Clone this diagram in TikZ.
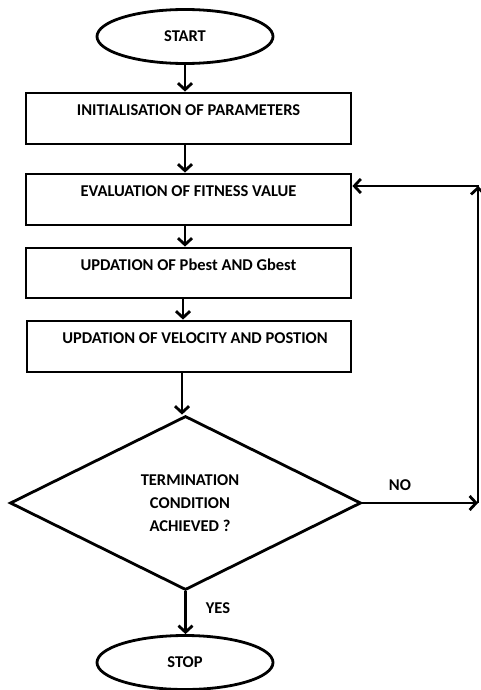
\documentclass[tikz,border=0pt]{standalone}
\usepackage{fontspec}
\setmainfont{Carlito}
\usetikzlibrary{shapes.geometric,arrows.meta}
\begin{document}
\begin{tikzpicture}[x=1pt,y=-1pt,
  every node/.style={font=\fontsize{16.5}{23}\selectfont\bfseries},
  lw/.style={line width=2.8pt},
  term/.style={lw,draw,ellipse,minimum width=176pt,minimum height=54pt,inner sep=0pt},
  procbox/.style={lw,draw,rectangle,minimum width=325pt,minimum height=51pt,inner xsep=0pt,inner ysep=4pt,text height=18pt,text depth=25pt},
  decision/.style={lw,draw,diamond,minimum width=351pt,minimum height=174pt,inner sep=0pt,align=center},
  arr/.style={lw,-{Straight Barb[length=6.5pt,width=14pt,line width=2.8pt]}},
  plain/.style={lw}]
\useasboundingbox (0,0) rectangle (481,690);
\node[term] (start) at (185,36.5) {START};
\node[procbox] (b1) at (188.5,118.5) {INITIALISATION OF PARAMETERS};
\node[procbox] (b2) at (188.5,199.5) {EVALUATION OF FITNESS VALUE};
\node[procbox,minimum height=50pt,text depth=24pt] (b3) at (188.5,273) {UPDATION OF Pbest AND Gbest};
\node[procbox,minimum width=324pt] (b4) at (189,346.5) {\hspace{12pt}UPDATION OF VELOCITY AND POSTION};
\node[decision] (dia) at (185.5,503) {\hspace{9pt}TERMINATION\\\hspace{9pt}CONDITION\\\hspace{9pt}ACHIEVED ?};
\node[term] (stop) at (185,662.5) {STOP};
\coordinate (c1) at (478,503);
\coordinate (c2) at (478,186);
\draw[arr] (start.south) -- (start.south |- b1.north);
\draw[arr] (start.south |- b1.south) -- (start.south |- b2.north);
\draw[arr] (start.south |- b2.south) -- (start.south |- b3.north);
\draw[arr] ([xshift=-2pt]start.south |- b3.south) -- ([xshift=-2pt]start.south |- b4.north);
\draw[arr] ([xshift=-3pt]start.south |- b4.south) -- ([xshift=-3pt]start.south |- dia.north);
\draw[arr] (dia.south) -- (dia.south |- stop.north);
\draw[arr] (dia.east) -- (c1);
\draw[arr] (c1) -- (c2);
\draw[arr] ([xshift=1.4pt]c2) -- (b2.east |- c2);
\node (no) at (400,485) {NO};
\node (yes) at (218,608) {YES};
\end{tikzpicture}
\end{document}
